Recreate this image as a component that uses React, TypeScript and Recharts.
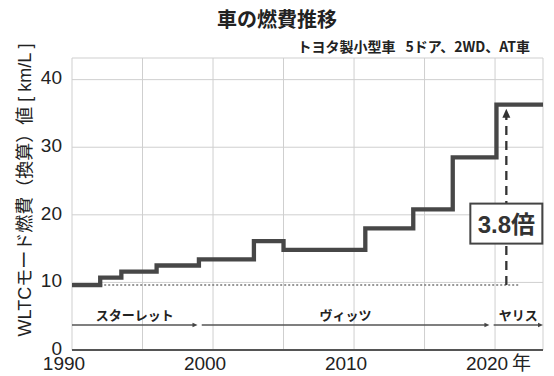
import React from "react";
import {
  LineChart,
  Line,
  XAxis,
  YAxis,
  CartesianGrid,
  ReferenceLine,
  ReferenceDot,
} from "recharts";

// Model-change years and WLTC-equivalent fuel economy (km/L) of the step line
const modelYears = [1990, 1992, 1993.5, 1996, 1999, 2002.9, 2005, 2010.8, 2014.2, 2017, 2020.1, 2023.4];
const fuelEconomy = [9.6, 10.7, 11.6, 12.5, 13.4, 16.1, 14.8, 18.0, 20.8, 28.5, 36.3, 36.3];

// Axis ticks
const gridYears = [1990, 1995, 2000, 2005, 2010, 2015, 2020];
const labelYears = [1990, 2000, 2010, 2020];
const yTicks = [0, 10, 20, 30, 40];
const yearUnit = "年";

// Vehicle names and the spans they cover
const eraNames = ["スターレット", "ヴィッツ", "ヤリス"];
const eraStart = [1990, 1999.2, 2019.9];
const eraEnd = [1998.9, 2019.6, 2023.4];
const eraLevel = 3.7;

// Baseline comparison annotation
const baselineEnd = 2021.7;
const ratioYear = 2020.8;
const ratioBoxLevel = 18.7;

const title = "車の燃費推移";
const subtitleMaker = "トヨタ製小型車";
const subtitleSpec = "5ドア、2WD、AT車";
const yLabel = "WLTCモード燃費（換算）値 [ km/L ]";

const data = modelYears.map((year, i) => ({ year, value: fuelEconomy[i] }));
const first = fuelEconomy[0];
const last = fuelEconomy[fuelEconomy.length - 1];
const ratioText = `${(last / first).toFixed(1)}倍`;

const FONT = "'Liberation Sans', Arial, 'Noto Sans CJK JP', sans-serif";
const JP_FONT = "'Noto Sans CJK JP', 'Liberation Sans', sans-serif";

const XTick = (props: any) => {
  const { x, y, payload } = props;
  const v = payload.value;
  if (!labelYears.includes(v)) return null;
  const isLast = v === labelYears[labelYears.length - 1];
  return (
    <g>
      <text x={x - 8} y={y + 12} textAnchor="middle" fontSize={19} fill="#222" fontFamily={FONT}>
        {String(v)}
      </text>
      {isLast && (
        <text x={x + 17} y={y + 12} textAnchor="start" fontSize={19} fill="#222" fontFamily={JP_FONT}>
          {yearUnit}
        </text>
      )}
    </g>
  );
};

const YTick = (props: any) => {
  const { x, y, payload } = props;
  return (
    <text x={x - 2} y={y - 2} dy="0.36em" textAnchor="end" fontSize={19} fill="#222" fontFamily={FONT}>
      {String(payload.value)}
    </text>
  );
};

const YLabel = () => (
  <text
    x={25}
    y={190}
    transform="rotate(-90 25 190)"
    textAnchor="middle"
    dominantBaseline="central"
    fontSize={18}
    fill="#222"
    fontFamily={FONT}
  >
    {yLabel}
  </text>
);

// Era span: thin line with a small arrowhead and the vehicle name above it
const eraShape = (name: string) => (props: any) => {
  const { x1, y1, x2 } = props;
  return (
    <g>
      <line x1={x1} y1={y1} x2={x2 - 3} y2={y1} stroke="#555" strokeWidth={1.3} />
      <polygon points={`${x2},${y1} ${x2 - 5},${y1 - 2.2} ${x2 - 5},${y1 + 2.2}`} fill="#444" />
      <text
        x={(x1 + x2) / 2}
        y={y1 - 10}
        textAnchor="middle"
        dominantBaseline="central"
        fontSize={13}
        fill="#222"
        fontFamily={JP_FONT}
        fontWeight="bold"
      >
        {name}
      </text>
    </g>
  );
};

// Dashed arrow rising from the baseline to the latest value
const ratioArrow = (props: any) => {
  const { x1, y1, y2 } = props;
  const bottom = Math.max(y1, y2);
  const tip = Math.min(y1, y2) + 4;
  return (
    <g>
      <line x1={x1} y1={bottom} x2={x1} y2={tip + 8} stroke="#333" strokeWidth={2.3} strokeDasharray="9 6" />
      <polygon points={`${x1},${tip} ${x1 - 4},${tip + 9} ${x1 + 4},${tip + 9}`} fill="#333" />
    </g>
  );
};

const ratioBox = (props: any) => {
  const { cx, cy } = props;
  return (
    <g>
      <rect x={cx - 36} y={cy - 20} width={72} height={40} fill="#fff" stroke="#444" strokeWidth={2} />
      <text
        x={cx}
        y={cy + 1}
        textAnchor="middle"
        dominantBaseline="central"
        fontSize={24}
        fontWeight="bold"
        fill="#333"
        fontFamily={FONT}
      >
        {ratioText}
      </text>
    </g>
  );
};

export default function App() {
  return (
    <div style={{ position: "absolute", left: 0, top: 0, width: 554, height: 376, background: "#fff" }}>
      <div
        style={{
          position: "absolute",
          left: 0,
          top: 9,
          width: 554,
          textAlign: "center",
          fontFamily: JP_FONT,
          fontWeight: "bold",
          fontSize: 20,
          lineHeight: "20px",
          color: "#222",
        }}
      >
        {title}
      </div>
      <div
        style={{
          position: "absolute",
          right: 24,
          top: 39,
          fontFamily: JP_FONT,
          fontWeight: "bold",
          fontSize: 14,
          lineHeight: "14px",
          color: "#222",
          whiteSpace: "nowrap",
        }}
      >
        <span style={{ marginRight: 10 }}>{subtitleMaker}</span>
        <span>{subtitleSpec}</span>
      </div>
      <LineChart
        width={554}
        height={376}
        data={data}
        margin={{ top: 58, right: 11, bottom: 0, left: 0 }}
        style={{ position: "absolute", left: 0, top: 0 }}
      >
        <CartesianGrid stroke="#cfcfcf" strokeWidth={1} />
        <XAxis
          type="number"
          dataKey="year"
          domain={[1990, 2023.4]}
          ticks={gridYears}
          height={26}
          tickLine={false}
          axisLine={{ stroke: "#555", strokeWidth: 2 }}
          tick={<XTick />}
          interval={0}
        />
        <YAxis
          type="number"
          domain={[0, 43.2]}
          ticks={yTicks}
          width={72}
          tickLine={false}
          axisLine={false}
          tick={<YTick />}
          interval={0}
          label={<YLabel />}
        />
        <ReferenceLine
          segment={[
            { x: modelYears[1], y: first },
            { x: baselineEnd, y: first },
          ]}
          stroke="#777"
          strokeWidth={1.5}
          strokeDasharray="2 2"
        />
        {eraNames.map((name, i) => (
          <ReferenceLine
            key={name}
            segment={[
              { x: eraStart[i], y: eraLevel },
              { x: eraEnd[i], y: eraLevel },
            ]}
            shape={eraShape(name)}
          />
        ))}
        <Line
          type="stepAfter"
          dataKey="value"
          stroke="#474747"
          strokeWidth={4.3}
          strokeLinejoin="miter"
          strokeLinecap="butt"
          dot={false}
          activeDot={false}
          isAnimationActive={false}
        />
        <ReferenceLine
          segment={[
            { x: ratioYear, y: first },
            { x: ratioYear, y: last },
          ]}
          shape={ratioArrow}
        />
        <ReferenceDot x={ratioYear} y={ratioBoxLevel} r={0} shape={ratioBox} />
      </LineChart>
    </div>
  );
}
